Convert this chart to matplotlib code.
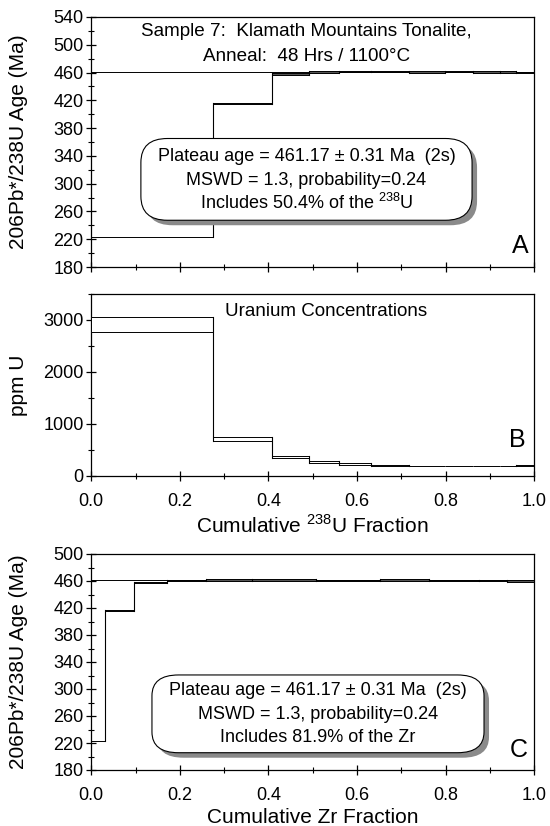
import matplotlib
matplotlib.use("Agg")
import matplotlib.pyplot as plt
from matplotlib.patches import Rectangle, FancyBboxPatch
from matplotlib.ticker import MultipleLocator, FormatStrFormatter
import matplotlib.transforms as mtransforms

plt.rcParams['font.family'] = ['Liberation Sans', 'DejaVu Sans']
plt.rcParams['mathtext.fontset'] = 'custom'
plt.rcParams['mathtext.rm'] = 'Liberation Sans'

# Step boundaries (cumulative fractions)
u_edges = [0.0, 0.275, 0.408, 0.492, 0.559, 0.631, 0.717, 0.799, 0.862, 0.923, 0.959, 1.0]
zr_edges = [0.0, 0.030, 0.096, 0.171, 0.258, 0.364, 0.507, 0.652, 0.763, 0.876, 0.939, 1.0]
# Step ages (Ma) and 2s errors
ages = [223.0, 416.0, 458.0, 460.8, 461.6, 461.3, 461.0, 461.8, 460.8, 460.6, 460.0]
age_err = [0.3, 0.6, 0.9, 1.1, 1.1, 1.1, 1.1, 1.1, 1.1, 1.1, 1.1]
# Uranium concentrations (ppm): lower / upper bounds
u_low = [2770, 680, 345, 258, 215, 195, 185, 188, 188, 190, 192]
u_high = [3060, 745, 385, 295, 245, 215, 198, 200, 198, 200, 202]
plateau_age = 461.17

age_ticks = [180, 220, 260, 300, 340, 380, 420, 460, 500, 540]
ppm_ticks = [0, 1000, 2000, 3000]
frac_ticks = [0.0, 0.2, 0.4, 0.6, 0.8, 1.0]

fig = plt.figure(figsize=(5.5, 8.26), dpi=100)
L, W = 0.166, 0.805
axA = fig.add_axes([L, 1 - 267/826, W, 250/826])
axB = fig.add_axes([L, 1 - 476/826, W, 182/826])
axC = fig.add_axes([L, 1 - 770/826, W, 216/826])

TICK_FS = 13
LAB_FS = 15
TXT_FS = 13
YLAB_X = -0.143


def style(ax, ymaj, ymin, labels=True):
    ax.set_xlim(0, 1)
    ax.set_xticks(frac_ticks)
    ax.xaxis.set_minor_locator(MultipleLocator(0.1))
    ax.xaxis.set_major_formatter(FormatStrFormatter('%.1f'))
    ax.yaxis.set_major_locator(MultipleLocator(ymaj))
    ax.yaxis.set_minor_locator(MultipleLocator(ymin))
    ax.tick_params(which='major', direction='inout', length=7, width=0.9,
                   labelsize=TICK_FS, pad=2)
    ax.tick_params(axis='x', which='major', pad=8.5)
    ax.tick_params(which='minor', direction='inout', length=4, width=0.8)
    ax.tick_params(axis='x', labelbottom=labels)
    for s in ax.spines.values():
        s.set_linewidth(0.9)


def draw_steps(ax, edges, lo, hi, color):
    n = len(lo)
    for i in range(n):
        ax.add_patch(Rectangle((edges[i], lo[i]), edges[i+1] - edges[i], hi[i] - lo[i],
                               facecolor=color, edgecolor='black', linewidth=0.7, zorder=3))
    for i in range(n - 1):
        ymin = min(lo[i], lo[i+1])
        ymax = max(hi[i], hi[i+1])
        ax.plot([edges[i+1], edges[i+1]], [ymin, ymax], color='black', lw=0.8, zorder=3)


def shadow_box(ax, x0, y0, w, h, lines, ys, fs):
    off = mtransforms.offset_copy(ax.transAxes, fig=ax.figure, x=5, y=-5, units='dots')
    ax.add_patch(FancyBboxPatch((x0, y0), w, h, boxstyle='round,pad=0,rounding_size=0.06',
                                transform=off, facecolor='#8a8a8a', edgecolor='none',
                                zorder=5, mutation_aspect=1.6, clip_on=False))
    ax.add_patch(FancyBboxPatch((x0, y0), w, h, boxstyle='round,pad=0,rounding_size=0.06',
                                transform=ax.transAxes, facecolor='white', edgecolor='black',
                                linewidth=0.8, zorder=6, mutation_aspect=1.6))
    for t, yy in zip(lines, ys):
        ax.text(x0 + w / 2, yy, t, transform=ax.transAxes,
                ha='center', va='center', fontsize=fs, zorder=7)


age_lo = [a - e for a, e in zip(ages, age_err)]
age_hi = [a + e for a, e in zip(ages, age_err)]

# Panel A
style(axA, 40, 20, labels=False)
axA.set_ylim(180, 540)
axA.set_yticks(age_ticks)
axA.axhline(plateau_age, color='black', lw=0.7, zorder=2)
draw_steps(axA, u_edges, age_lo, age_hi, '#555555')
axA.set_ylabel('206Pb*/238U Age (Ma)', fontsize=LAB_FS)
axA.yaxis.set_label_coords(YLAB_X, 0.5)
axA.text(0.486, 0.94, 'Sample 7:  Klamath Mountains Tonalite,', transform=axA.transAxes,
         ha='center', va='center', fontsize=13.6)
axA.text(0.486, 0.84, 'Anneal:  48 Hrs / 1100°C', transform=axA.transAxes,
         ha='center', va='center', fontsize=13.6)
shadow_box(axA, 0.112, 0.187, 0.748, 0.327,
           ['Plateau age = 461.17 ± 0.31 Ma  (2s)', 'MSWD = 1.3, probability=0.24',
            'Includes 50.4% of the $^{238}$U'], [0.442, 0.347, 0.258], TXT_FS)
axA.text(0.987, 0.035, 'A', transform=axA.transAxes, ha='right', va='bottom', fontsize=18)

# Panel B
style(axB, 1000, 500)
axB.set_ylim(0, 3500)
axB.set_yticks(ppm_ticks)
draw_steps(axB, u_edges, u_low, u_high, 'white')
axB.set_ylabel('ppm U', fontsize=LAB_FS)
axB.yaxis.set_label_coords(YLAB_X, 0.5)
axB.set_xlabel('Cumulative $^{238}$U Fraction', fontsize=LAB_FS, labelpad=3)
axB.text(0.53, 0.905, 'Uranium Concentrations', transform=axB.transAxes,
         ha='center', va='center', fontsize=13.5)
axB.text(0.98, 0.13, 'B', transform=axB.transAxes, ha='right', va='bottom', fontsize=18)

# Panel C
style(axC, 40, 20)
axC.set_ylim(180, 500)
axC.set_yticks(age_ticks[:-1])
axC.axhline(plateau_age, color='black', lw=0.7, zorder=2)
draw_steps(axC, zr_edges, age_lo, age_hi, '#555555')
axC.set_ylabel('206Pb*/238U Age (Ma)', fontsize=LAB_FS)
axC.yaxis.set_label_coords(YLAB_X, 0.5)
axC.set_xlabel('Cumulative Zr Fraction', fontsize=LAB_FS, labelpad=3)
shadow_box(axC, 0.137, 0.08, 0.75, 0.36,
           ['Plateau age = 461.17 ± 0.31 Ma  (2s)', 'MSWD = 1.3, probability=0.24',
            'Includes 81.9% of the Zr'], [0.366, 0.258, 0.152], TXT_FS)
axC.text(0.985, 0.035, 'C', transform=axC.transAxes, ha='right', va='bottom', fontsize=18)

fig.savefig('out.png', dpi=100)
